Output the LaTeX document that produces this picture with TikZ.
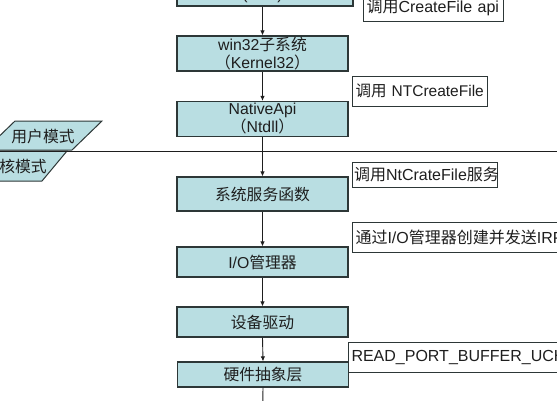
\documentclass[tikz,border=0pt]{standalone}
\usepackage{fontspec}
\setmainfont{Liberation Sans}
\newfontfamily\cjk{Noto Sans CJK SC}
\usetikzlibrary{arrows.meta}
\definecolor{boxfill}{RGB}{185,222,226}
\definecolor{boxline}{RGB}{45,55,55}
\definecolor{ink}{RGB}{30,30,30}
\newcommand\zh[1]{{\cjk #1}}
\begin{document}
\begin{tikzpicture}[x=1pt,y=-1pt,
  box/.style={draw=boxline, fill=boxfill, line width=1.2pt, minimum width=171pt,
    inner sep=0pt, align=center, font=\fontsize{15.8}{18}\selectfont, text=ink},
  lbl/.style={draw=boxline, fill=white, line width=1pt, anchor=west, inner xsep=3pt,
    inner ysep=0pt, align=left, font=\fontsize{16}{18}\selectfont, text=ink},
  arr/.style={draw=ink, line width=0.9pt, -{Latex[length=5pt,width=4.5pt]}},
  mode/.style={draw=boxline, fill=boxfill, line width=1pt},
  txt/.style={font=\fontsize{15.8}{18}\selectfont, text=ink, inner sep=0pt}]
\useasboundingbox (0,0) rectangle (557,400);
\clip (0,0) rectangle (557,400);
% mode parallelograms
\path[mode] (15,121) -- (102,121) -- (72,150) -- (-15,150) -- cycle;
\path[mode] (-20,151) -- (67,151) -- (42,181) -- (-45,181) -- cycle;
\node[txt] (user) at (43,136) {\zh{用户模式}};
\node[txt, anchor=east] (kern) at (47,166) {\zh{核模式}};
\draw[ink, line width=0.9pt] (0,151) coordinate (ls) -- (557,151) coordinate (le);
% main boxes
\node[box, minimum width=176pt, minimum height=35pt] (app) at (265,-11.5) {};
\node[txt] (appt) at (262.5,-4.5) {(.exe)};
\node[box, minimum height=35pt] (win) at (262.5,53.5) {win32\zh{子系统}\\\zh{（}Kernel32\zh{）}};
\node[box, minimum height=35pt] (nat) at (262.5,119) {NativeApi\\\zh{（}Ntdll\zh{）}};
\node[box, minimum height=34pt] (sys) at (262.5,194) {\zh{系统服务函数}};
\node[box, minimum height=30pt] (io) at (262.5,262) {I/O\zh{管理器}};
\node[box, minimum height=30pt] (dev) at (262.5,322) {\zh{设备驱动}};
\node[box, minimum height=25pt] (hal) at (263,374.5) {\zh{硬件抽象层}};
\coordinate (below) at (262.5,420);
% labels
\node[lbl, minimum height=26pt, text width=134pt] (l1) at (363,8) {\zh{调用}CreateFile api};
\node[lbl, minimum height=30pt, text width=129pt, font=\fontsize{15.5}{18}\selectfont] (l2) at (352,91) {\zh{调用} NTCreateFile};
\node[lbl, minimum height=25pt, inner xsep=1.5pt, text width=142pt] (l3) at (352,174.5) {\zh{调用}NtCrateFile\zh{服务}};
\node[lbl, minimum height=30pt, text width=260pt] (l4) at (352,237) {\zh{通过}I/O\zh{管理器创建并发送}IRP};
\node[lbl, minimum height=30pt, text width=260pt] (l5) at (348,357) {READ\_PORT\_BUFFER\_UCHAR};
% arrows
\draw[arr] (app.south -| win.north) -- (win.north);
\draw[arr] (win.south) -- (nat.north);
\draw[arr] (nat.south) -- (sys.north);
\draw[arr] (sys.south) -- (io.north);
\draw[arr] (io.south) -- (dev.north);
\draw[arr] (dev.south) -- (hal.north);
\draw[draw=ink, line width=0.9pt] (hal.south) -- (below);
\end{tikzpicture}
\end{document}
